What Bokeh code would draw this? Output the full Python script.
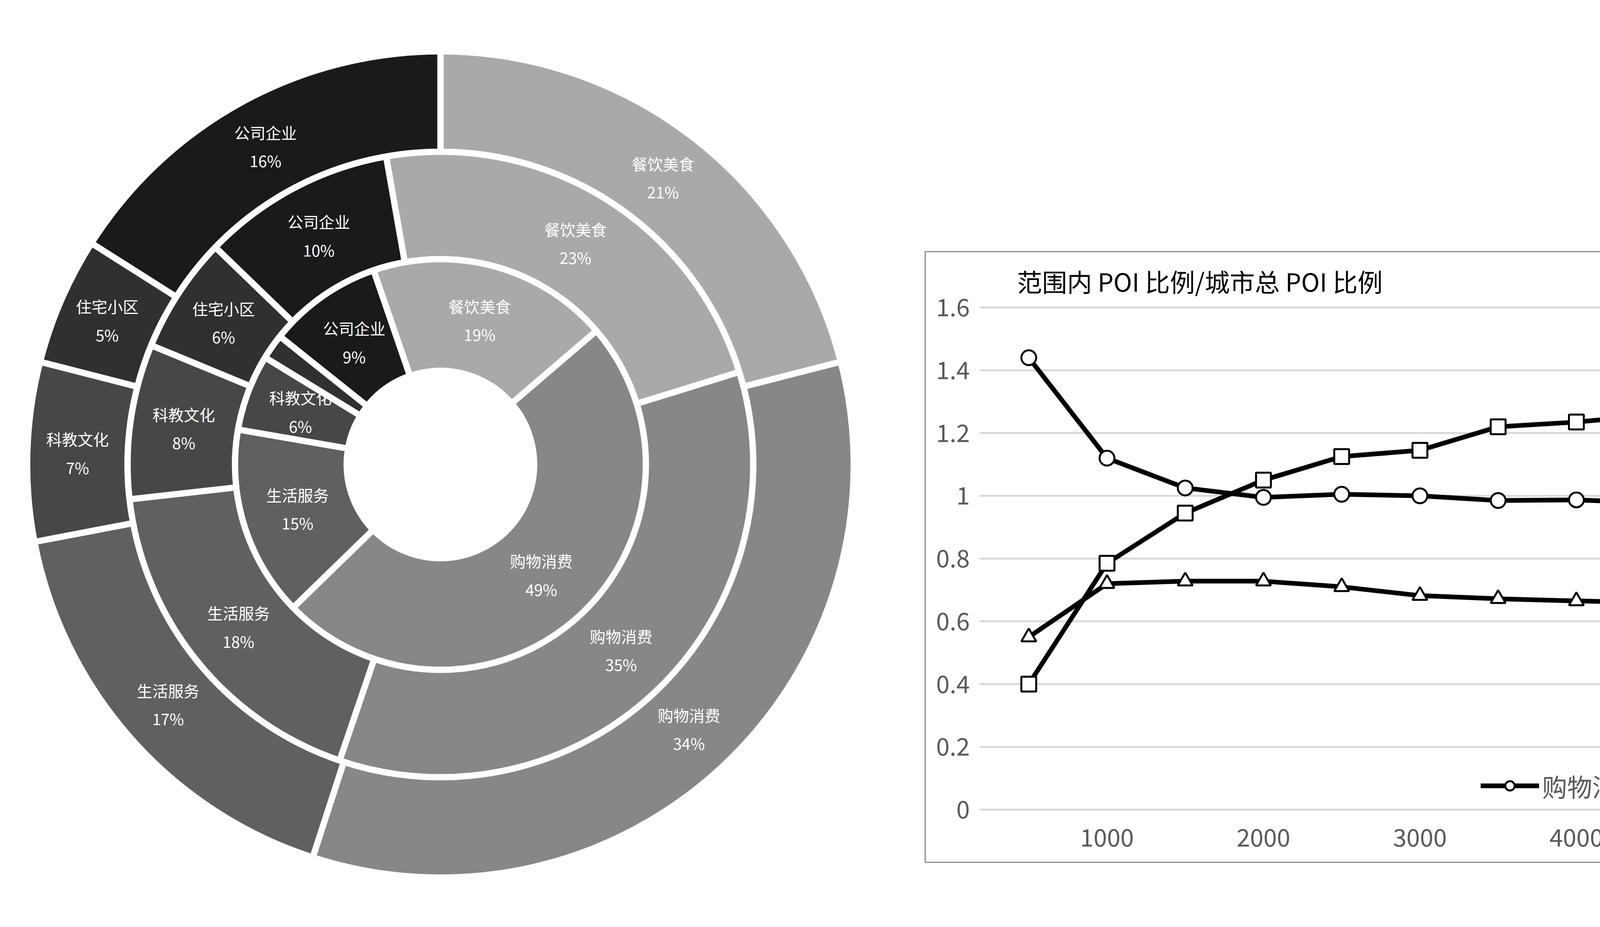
import numpy as np
from bokeh.plotting import figure
from bokeh.models import Legend, LegendItem, ColumnDataSource, Range1d
from bokeh.core.properties import value
from bokeh.embed import file_html
from bokeh.resources import INLINE

FONT = "Noto Sans CJK SC"
# ---- donut data ----
cats = ["餐饮美食", "购物消费", "生活服务", "科教文化", "住宅小区", "公司企业"]
colors = ["#a9a9a9", "#878787", "#606060", "#474747", "#303030", "#1a1a1a"]
inner_vals = [19, 49, 15, 6, 2, 9]
middle_vals = [23, 35, 18, 8, 6, 10]
outer_vals = [21, 34, 17, 7, 5, 16]
ring_offsets = [-19, -10, 0]          # clock degrees where each ring starts
ring_radii = [(240, 526), (526, 801), (801, 1058)]
show_label = [[True, True, True, True, False, True], [True]*6, [True]*6]

# ---- line data ----
radius = [500, 1000, 1500, 2000, 2500, 3000, 3500, 4000, 4500, 5000,
          5500, 6000, 6500, 7000, 7500, 8000, 8500, 9000, 9500, 10000]
shopping = [1.44, 1.12, 1.025, 0.995, 1.005, 1.0, 0.985, 0.987, 0.977, 1.018,
            1.02, 1.01, 1.003, 0.995, 0.98, 0.967, 0.965, 0.962, 0.958, 0.952]
residential = [0.4, 0.785, 0.945, 1.05, 1.125, 1.145, 1.22, 1.235, 1.258, 1.228,
               1.252, 1.265, 1.275, 1.272, 1.272, 1.268, 1.272, 1.272, 1.268, 1.248]
company = [0.55, 0.72, 0.728, 0.728, 0.71, 0.682, 0.672, 0.665, 0.66, 0.648,
           0.655, 0.668, 0.682, 0.712, 0.73, 0.762, 0.78, 0.777, 0.79, 0.782]
series_names = ["购物消费", "住宅小区", "公司企业"]
markers = ["circle", "square", "triangle"]
y_ticks = [0, 0.2, 0.4, 0.6, 0.8, 1.0, 1.2, 1.4, 1.6]
y_tick_labels = ["0", "0.2", "0.4", "0.6", "0.8", "1", "1.2", "1.4", "1.6"]
x_ticks = [1000, 2000, 3000, 4000, 5000, 6000, 7000, 8000, 9000, 10000]
x_tick_labels = [str(t) for t in x_ticks]

W, H = 6577, 2358
p = figure(width=W, height=H, x_range=(0, W), y_range=(0, H), output_backend="svg",
           toolbar_location=None, min_border=0)
p.axis.visible = False; p.grid.visible = False; p.outline_line_color = None

# donut (pixel-space ranges)
cx, cy = 1127, H - 1189
for ring, vals in enumerate([inner_vals, middle_vals, outer_vals]):
    tot = sum(vals)
    cum = np.cumsum([0] + vals)
    a0 = ring_offsets[ring] + cum[:-1] / tot * 360
    a1 = ring_offsets[ring] + cum[1:] / tot * 360
    r0, r1 = ring_radii[ring]
    src = ColumnDataSource(dict(start=np.radians(90 - a1), end=np.radians(90 - a0), color=colors))
    p.annular_wedge(x=cx, y=cy, inner_radius=r0, outer_radius=r1, start_angle="start",
                    end_angle="end", fill_color="color", line_color="white", line_width=16, source=src)
    mid = np.radians(90 - (a0 + a1) / 2)
    rm = (r0 + r1) / 2
    txt, xs, ys = [], [], []
    for i in range(6):
        if show_label[ring][i]:
            txt.append(f"{cats[i]}\n{vals[i]}%")
            xs.append(cx + rm * np.cos(mid[i])); ys.append(cy + rm * np.sin(mid[i]))
    p.text(x=xs, y=ys, text=txt, text_color="white", text_font=value(FONT), text_font_size="40px",
           text_align="center", text_baseline="middle", text_line_height=1.25)

# line chart box
p.quad(left=2368, right=6489, bottom=150, top=1714, fill_color=None, line_color="#8c8c8c", line_width=3)

# line chart scales
kx = (6447 - 2507) / (10022 - 185)
ky = (1571 - 285) / 1.6
p.extra_x_ranges = {"lx": Range1d(185 - 2507 / kx, 10022 + (W - 6447) / kx)}
p.extra_y_ranges = {"ly": Range1d(-285 / ky, (H - 285) / ky)}
kw = dict(x_range_name="lx", y_range_name="ly")

p.segment(x0=185, x1=10022, y0=y_ticks, y1=y_ticks, line_color="#d9d9d9", line_width=5, **kw)
p.text(x=123, y=y_ticks, text=y_tick_labels, text_align="right", text_baseline="middle",
       text_font=value(FONT), text_font_size="62px", text_color="#595959", **kw)
p.text(x=x_ticks, y=-0.09, text=x_tick_labels, text_align="center", text_baseline="middle",
       text_font=value(FONT), text_font_size="62px", text_color="#595959", **kw)

items = []
for name, ys, mk in zip(series_names, [shopping, residential, company], markers):
    l = p.line(radius, ys, line_color="black", line_width=12, **kw)
    s = p.scatter(radius, ys, marker=mk, size=38, fill_color="white", line_color="black",
                  line_width=5, **kw)
    items.append(LegendItem(label=name, renderers=[l, s]))
leg = Legend(items=items, orientation="horizontal", location=(3790, 300), label_text_font=FONT,
             label_text_font_size="64px", label_text_color="#595959", glyph_width=150, glyph_height=60,
             spacing=80, label_standoff=8, background_fill_alpha=0, border_line_color=None, padding=10)
p.add_layout(leg, "center")

p.text(x=425, y=1.685, text=["范围内 POI 比例/城市总 POI 比例"], text_font=value(FONT),
       text_font_size="64px", text_baseline="middle", text_color="black", **kw)
p.text(x=9990, y=0.073, text=["范围半径/m"], text_font=value(FONT), text_font_size="64px",
       text_baseline="middle", text_align="right", text_color="black", **kw)

open("out.html", "w").write(file_html(p, INLINE))
